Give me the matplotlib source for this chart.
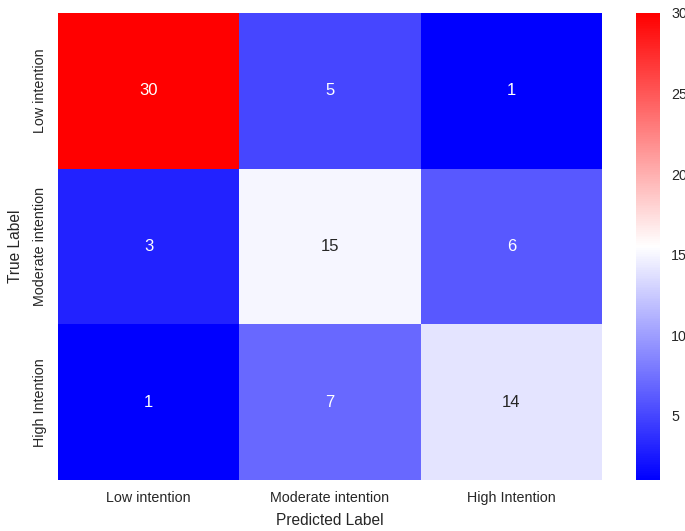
import matplotlib
matplotlib.use("Agg")
import matplotlib.pyplot as plt
import seaborn as sns
import numpy as np

sns.set_theme(style="white")
plt.rcParams['font.family'] = ['Liberation Sans', 'DejaVu Sans']

classes = ["Low intention", "Moderate intention", "High Intention"]
row_low = [30, 5, 1]
row_moderate = [3, 15, 6]
row_high = [1, 7, 14]

cm = np.array([row_low, row_moderate, row_high])

fig = plt.figure(figsize=(6.85, 5.31), dpi=100)
ax = fig.add_axes([58/685, 1 - 480/531, 544/685, 467/531])
cax = fig.add_axes([636/685, 1 - 480/531, 24/685, 467/531])

sns.heatmap(cm, annot=True, fmt="d", cmap="bwr", ax=ax, cbar_ax=cax,
            xticklabels=classes, yticklabels=classes,
            annot_kws={"fontsize": 12})

ax.set_xlabel("Predicted Label", fontsize=11.2, color=".15", labelpad=6)
ax.set_ylabel("True Label", fontsize=11.2, color=".15", labelpad=7)
ax.tick_params(axis="both", labelsize=10.3, colors=".15", length=0, pad=8)
ax.tick_params(axis="y", rotation=90)
for t in ax.get_yticklabels():
    t.set_va("center")
cax.tick_params(labelsize=10.3, colors=".15", length=0, pad=8)

fig.savefig("out.png", dpi=100)
